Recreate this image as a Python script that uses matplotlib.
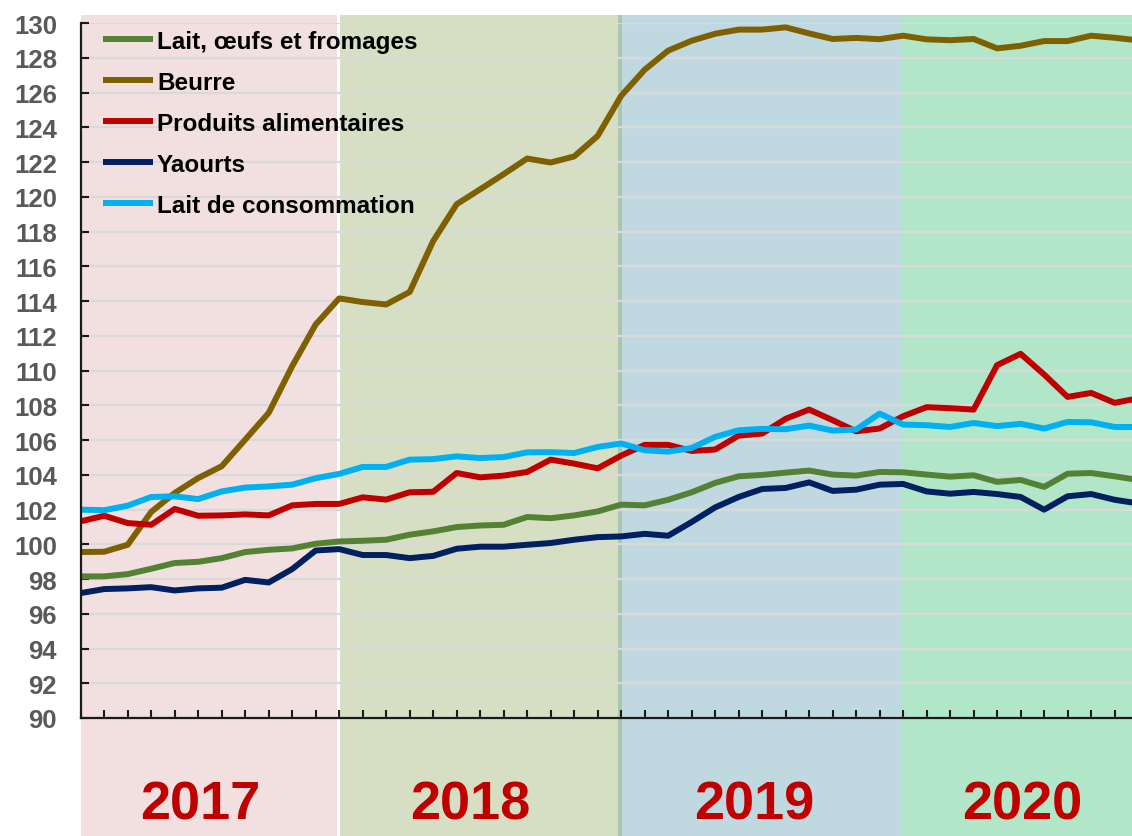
import numpy as np
import matplotlib
matplotlib.use("Agg")
import matplotlib.pyplot as plt
import matplotlib.transforms as mtransforms

plt.rcParams['font.family'] = ['Liberation Sans', 'DejaVu Sans']
plt.rcParams['font.weight'] = 'bold'

# --- données (indices mensuels, janv. 2017 -> oct. 2020) ---
lait_oeufs_fromages = [98.15, 98.15, 98.28, 98.59, 98.92, 98.99, 99.2, 99.55, 99.68, 99.76,
                       100.03, 100.16, 100.2, 100.26, 100.55, 100.74, 100.99, 101.08, 101.12, 101.57,
                       101.5, 101.66, 101.89, 102.28, 102.24, 102.56, 102.99, 103.53, 103.91, 103.99,
                       104.12, 104.24, 104.01, 103.95, 104.16, 104.14, 104.01, 103.89, 103.97, 103.59,
                       103.7, 103.3, 104.06, 104.1, 103.91, 103.7]
beurre = [99.55, 99.57, 99.97, 101.86, 102.95, 103.81, 104.49, 106.02, 107.56, 110.25,
          112.65, 114.15, 113.94, 113.8, 114.52, 117.45, 119.57, 120.43, 121.3, 122.2,
          121.97, 122.32, 123.5, 125.81, 127.31, 128.41, 128.98, 129.38, 129.62, 129.62,
          129.75, 129.4, 129.08, 129.14, 129.07, 129.27, 129.06, 129.01, 129.08, 128.54,
          128.69, 128.96, 128.96, 129.27, 129.15, 129.0]
produits_alimentaires = [101.32, 101.64, 101.22, 101.12, 102.03, 101.64, 101.66, 101.72, 101.66, 102.24,
                         102.32, 102.32, 102.7, 102.57, 102.99, 103.02, 104.1, 103.85, 103.95, 104.16,
                         104.87, 104.64, 104.37, 105.1, 105.72, 105.72, 105.37, 105.45, 106.25, 106.37,
                         107.22, 107.75, 107.14, 106.5, 106.66, 107.37, 107.89, 107.83, 107.75, 110.31,
                         110.96, 109.77, 108.48, 108.71, 108.14, 108.4]
yaourts = [97.19, 97.42, 97.46, 97.53, 97.34, 97.46, 97.5, 97.95, 97.8, 98.57,
           99.64, 99.72, 99.38, 99.38, 99.2, 99.33, 99.74, 99.86, 99.86, 99.97,
           100.07, 100.26, 100.41, 100.45, 100.6, 100.49, 101.28, 102.12, 102.72, 103.18,
           103.24, 103.56, 103.07, 103.14, 103.43, 103.47, 103.04, 102.91, 103.01, 102.89,
           102.72, 101.99, 102.76, 102.89, 102.56, 102.35]
lait_consommation = [101.99, 101.96, 102.22, 102.72, 102.76, 102.6, 103.04, 103.26, 103.33, 103.43,
                     103.8, 104.05, 104.45, 104.45, 104.87, 104.9, 105.06, 104.96, 105.02, 105.29,
                     105.3, 105.25, 105.6, 105.8, 105.41, 105.33, 105.54, 106.18, 106.56, 106.64,
                     106.62, 106.83, 106.54, 106.6, 107.52, 106.89, 106.85, 106.75, 106.98, 106.8,
                     106.93, 106.66, 107.04, 107.02, 106.75, 106.75]

series_labels = ['Lait, œufs et fromages', 'Beurre', 'Produits alimentaires',
                 'Yaourts', 'Lait de consommation']
annees = ['2017', '2018', '2019', '2020']

# --- style ---
couleurs = ['#548235', '#7F6000', '#C00000', '#002060', '#00B0F0']
fonds = ['#F2DFDF', '#D6DFC4', '#C0D9E0', '#B1E6C8']
bornes = [(0, 10.92), (11.05, 22.88), (23.05, 34.9), (34.9, 46)]
centres_annees = [5.1, 16.57, 28.65, 40.09]

fig = plt.figure(figsize=(11.32, 8.37), dpi=100)
ax = fig.add_axes([80.7 / 1132, 118 / 837, 1 - 80.7 / 1132, 695 / 837])

# bandes de couleur par année (débordent sous l'axe)
for (x0, x1), c in zip(bornes, fonds):
    ax.axvspan(x0, x1, ymin=-0.18, ymax=1.0115, color=c, lw=0, zorder=0.2, clip_on=False)
# séparateur plus sombre entre 2018 et 2019
ax.axvspan(22.88, 23.05, ymin=-0.18, ymax=1.0115, color='#A9C6B0', lw=0, zorder=0.2, clip_on=False)

x = np.arange(len(beurre))
donnees = [lait_oeufs_fromages, beurre, produits_alimentaires, yaourts, lait_consommation]
for vals, lab, col in zip(donnees, series_labels, couleurs):
    ax.plot(x, vals, color=col, lw=4.3, label=lab, solid_joinstyle='round',
            solid_capstyle='butt', zorder=3)

ax.set_xlim(0, 44.74)
ax.set_ylim(90, 130)
ax.set_yticks(np.arange(90, 131, 2))
ax.set_xticks(np.arange(0, 45))
ax.set_xticklabels([])
ax.set_axisbelow(True)
ax.grid(axis='y', color='#D9D9D9', lw=1.6)
ax.set_facecolor('none')

for s in ['top', 'right']:
    ax.spines[s].set_visible(False)
for s in ['left', 'bottom']:
    ax.spines[s].set_linewidth(1.6)
    ax.spines[s].set_color('#1a1a1a')
    ax.spines[s].set_zorder(4)

ax.tick_params(axis='y', direction='in', length=6, width=1.5, color='#1a1a1a',
               pad=17, labelsize=18.5, labelcolor='#595959')
ax.tick_params(axis='x', direction='in', length=5.5, width=1.5, color='#1a1a1a')
for t in ax.get_yticklabels():
    t.set_fontweight('bold')

trans = mtransforms.blended_transform_factory(ax.transData, ax.transAxes)
for xc, an in zip(centres_annees, annees):
    ax.text(xc, -0.125, an, transform=trans, ha='center', va='center',
            fontsize=39, fontweight='bold', color='#C00000')

leg = ax.legend(loc='upper left', bbox_to_anchor=(103 / 1132, 1 - 31 / 837),
                bbox_transform=fig.transFigure, frameon=False, fontsize=17.5,
                handlelength=2.05, handletextpad=0.17, labelspacing=0.74,
                borderpad=0, borderaxespad=0)
for t in leg.get_texts():
    t.set_fontweight('bold')
leg.set_zorder(5)

fig.savefig('out.png', dpi=100)
